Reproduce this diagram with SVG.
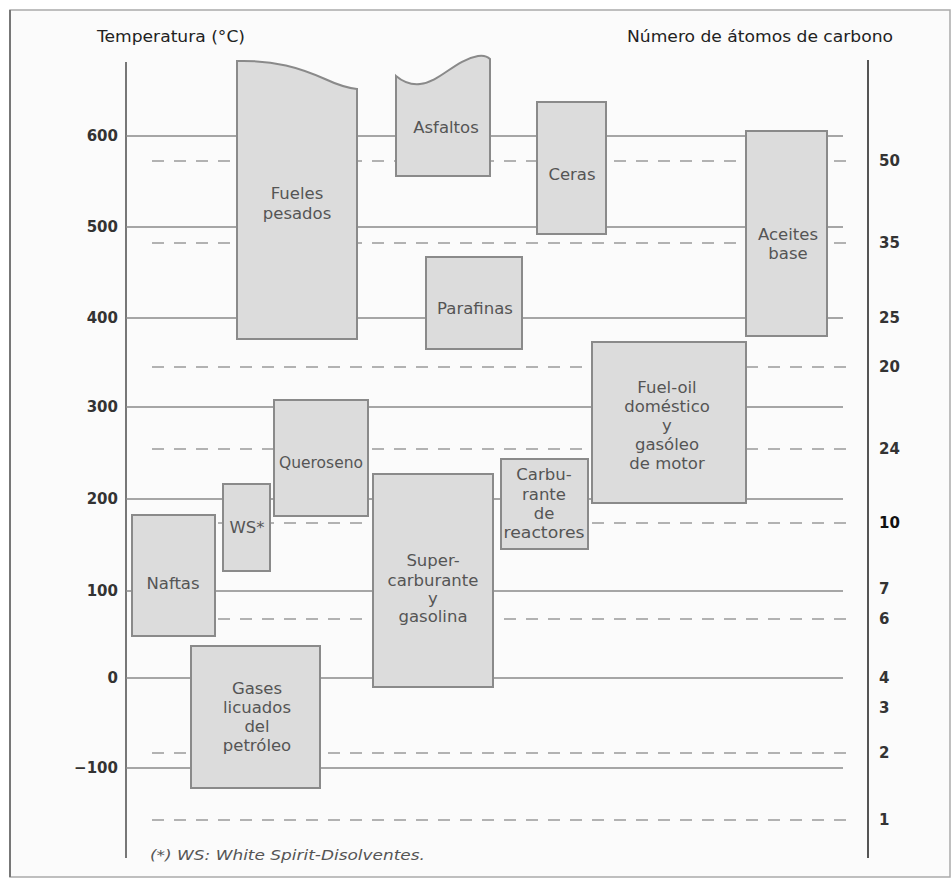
<svg xmlns="http://www.w3.org/2000/svg" width="951" height="880" viewBox="0 0 951 880">
<style>
.bx{fill:#dcdcdc;stroke:#8a8a8a;stroke-width:2}
.lb{font-family:"DejaVu Sans",sans-serif;font-size:16.5px;fill:#555;text-anchor:middle}
.sg{stroke:#8a8a8a;stroke-width:1.6;fill:none}
.dg{stroke:#9a9a9a;stroke-width:1.6;stroke-dasharray:12 10;fill:none}
.ax{font-family:"DejaVu Sans",sans-serif;font-size:15px;font-weight:bold;fill:#333}
.hd{font-family:"DejaVu Sans",sans-serif;font-size:16px;fill:#222}
</style>
<rect x="0" y="0" width="951" height="880" fill="#ffffff"/>
<rect x="10" y="10" width="940" height="867" fill="#fbfbfb" stroke="#aaa" stroke-width="1.5"/>
<line x1="10" y1="10" x2="10" y2="877" stroke="#777" stroke-width="2"/>
<text class="hd" x="97" y="42" textLength="148" lengthAdjust="spacingAndGlyphs">Temperatura (°C)</text>
<text class="hd" x="627" y="42" textLength="266" lengthAdjust="spacingAndGlyphs">Número de átomos de carbono</text>
<g id="connectors">
<line x1="126" y1="62" x2="126" y2="858" stroke="#777" stroke-width="2"/>
<line x1="868" y1="60" x2="868" y2="858" stroke="#555" stroke-width="2"/>
<path class="sg" d="M126,136H843M126,227H843M126,318H843M126,407H843M126,499H843M126,591H843M126,678H843M126,768H843"/>
<path class="dg" d="M152,161H850M152,243H850M152,367H850M152,449H850M152,523H850M152,619H850M152,753H850M152,820H850"/>
</g>
<g id="axis-left">
<text class="ax" x="118" y="141" text-anchor="end">600</text>
<text class="ax" x="118" y="232" text-anchor="end">500</text>
<text class="ax" x="118" y="323" text-anchor="end">400</text>
<text class="ax" x="118" y="412" text-anchor="end">300</text>
<text class="ax" x="118" y="504" text-anchor="end">200</text>
<text class="ax" x="118" y="596" text-anchor="end">100</text>
<text class="ax" x="118" y="683" text-anchor="end">0</text>
<text class="ax" x="118" y="773" text-anchor="end">−100</text>
</g>
<g id="axis-right">
<text class="ax" x="879" y="166">50</text>
<text class="ax" x="879" y="248">35</text>
<text class="ax" x="879" y="323">25</text>
<text class="ax" x="879" y="372">20</text>
<text class="ax" x="879" y="454">24</text>
<text class="ax" x="879" y="528" style="fill:#111">10</text>
<text class="ax" x="879" y="594">7</text>
<text class="ax" x="879" y="624">6</text>
<text class="ax" x="879" y="683">4</text>
<text class="ax" x="879" y="713">3</text>
<text class="ax" x="879" y="758">2</text>
<text class="ax" x="879" y="825">1</text>
</g>
<g id="fueles-pesados">
<path class="bx" d="M237,339V61C275,60 300,68 325,79C340,86 348,88 357,89V339Z"/>
<text class="lb" x="297" y="199">Fueles</text>
<text class="lb" x="297" y="219">pesados</text>
</g>
<g id="asfaltos">
<path class="bx" d="M396,176V76C403,82 410,85 420,84C440,82 455,60 478,56C484,55 488,57 490,59V176Z"/>
<text class="lb" x="446" y="133">Asfaltos</text>
</g>
<g id="ceras">
<rect class="bx" x="537" y="102" width="69" height="132"/>
<text class="lb" x="572" y="180">Ceras</text>
</g>
<g id="aceites-base">
<rect class="bx" x="746" y="131" width="81" height="205"/>
<text class="lb" x="788" y="240">Aceites</text>
<text class="lb" x="788" y="259">base</text>
</g>
<g id="parafinas">
<rect class="bx" x="426" y="257" width="96" height="92"/>
<text class="lb" x="475" y="314">Parafinas</text>
</g>
<g id="fuel-oil">
<rect class="bx" x="592" y="342" width="154" height="161"/>
<text class="lb" x="667" y="393">Fuel-oil</text>
<text class="lb" x="667" y="412">doméstico</text>
<text class="lb" x="667" y="431">y</text>
<text class="lb" x="667" y="450">gasóleo</text>
<text class="lb" x="667" y="469">de motor</text>
</g>
<g id="carburante-reactores">
<rect class="bx" x="501" y="459" width="87" height="90"/>
<text class="lb" x="544" y="480">Carbu-</text>
<text class="lb" x="544" y="500">rante</text>
<text class="lb" x="544" y="519">de</text>
<text class="lb" x="544" y="538" textLength="81" lengthAdjust="spacingAndGlyphs">reactores</text>
</g>
<g id="supercarburante">
<rect class="bx" x="373" y="474" width="120" height="213"/>
<text class="lb" x="433" y="566">Super-</text>
<text class="lb" x="433" y="586">carburante</text>
<text class="lb" x="433" y="604">y</text>
<text class="lb" x="433" y="622">gasolina</text>
</g>
<g id="queroseno">
<rect class="bx" x="274" y="400" width="94" height="116"/>
<text class="lb" x="321" y="468" textLength="84" lengthAdjust="spacingAndGlyphs">Queroseno</text>
</g>
<g id="ws">
<rect class="bx" x="223" y="484" width="47" height="87"/>
<text class="lb" x="247" y="533">WS*</text>
</g>
<g id="naftas">
<rect class="bx" x="132" y="515" width="83" height="121"/>
<text class="lb" x="173" y="589">Naftas</text>
</g>
<g id="gases-licuados">
<rect class="bx" x="191" y="646" width="129" height="142"/>
<text class="lb" x="257" y="694">Gases</text>
<text class="lb" x="257" y="713">licuados</text>
<text class="lb" x="257" y="732">del</text>
<text class="lb" x="257" y="751">petróleo</text>
</g>
<text x="150" y="860" font-family="DejaVu Sans, sans-serif" font-size="14px" font-style="italic" fill="#555" textLength="275" lengthAdjust="spacingAndGlyphs">(*) WS: White Spirit-Disolventes.</text>
</svg>
